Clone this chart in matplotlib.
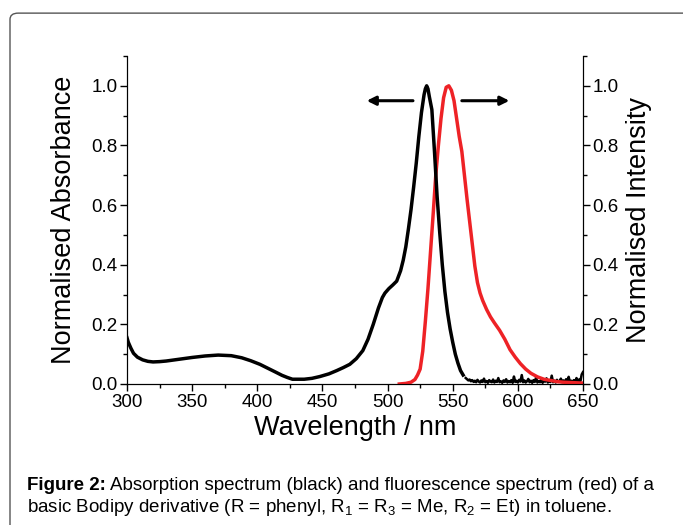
import matplotlib
matplotlib.use('Agg')
import matplotlib.pyplot as plt
from matplotlib.patches import FancyBboxPatch
from matplotlib.ticker import MultipleLocator
import numpy as np

plt.rcParams['font.family'] = ['Liberation Sans', 'DejaVu Sans']
plt.rcParams['mathtext.default'] = 'regular'

# absorption (black), main band
abs_nm = [300, 301, 303, 305, 308, 312, 316, 320, 325, 330, 340, 350, 360, 370, 380,
          388, 395, 402, 408, 414, 419, 423, 427, 431, 436, 442, 448, 455, 461, 466,
          471, 476, 481, 485, 489, 493, 496, 498, 501, 504, 507, 510, 512, 514, 516,
          518, 520, 522, 524, 526, 528, 529, 530, 531, 532, 534, 536, 538, 540, 542,
          544, 546, 548, 550, 552, 554, 556, 558]
abs_val = [0.155, 0.14, 0.12, 0.103, 0.09, 0.081, 0.076, 0.074, 0.075, 0.077, 0.083,
           0.089, 0.094, 0.097, 0.095, 0.088, 0.078, 0.066, 0.053, 0.04, 0.029, 0.022,
           0.016, 0.016, 0.016, 0.019, 0.025, 0.034, 0.045, 0.055, 0.066, 0.085, 0.112,
           0.15, 0.2, 0.255, 0.29, 0.305, 0.32, 0.332, 0.345, 0.38, 0.415, 0.46, 0.52,
           0.585, 0.66, 0.74, 0.83, 0.91, 0.97, 0.99, 1.0, 0.99, 0.965, 0.92, 0.78,
           0.63, 0.51, 0.40, 0.31, 0.24, 0.185, 0.14, 0.10, 0.07, 0.045, 0.03]
# noisy baseline of the absorption trace, 560-650 nm at 1 nm
abs_tail = [0.020, 0.016, 0.012, 0.015, 0.009, 0.013, 0.007, 0.011, 0.006, 0.014,
            0.008, 0.005, 0.012, 0.007, 0.018, 0.006, 0.010, 0.004, 0.013, 0.008,
            0.006, 0.015, 0.005, 0.011, 0.007, 0.020, 0.006, 0.009, 0.004, 0.012,
            0.007, 0.016, 0.005, 0.010, 0.006, 0.013, 0.004, 0.025, 0.007, 0.011,
            0.005, 0.014, 0.008, 0.030, 0.006, 0.012, 0.005, 0.009, 0.017, 0.006,
            0.011, 0.004, 0.013, 0.007, 0.022, 0.005, 0.010, 0.006, 0.015, 0.004,
            0.012, 0.008, 0.019, 0.005, 0.010, 0.007, 0.028, 0.006, 0.011, 0.005,
            0.014, 0.007, 0.009, 0.018, 0.006, 0.012, 0.005, 0.016, 0.008, 0.024,
            0.006, 0.011, 0.007, 0.013, 0.005, 0.020, 0.009, 0.015, 0.010, 0.032,
            0.040]
tail_nm = np.arange(560, 560 + len(abs_tail))

# fluorescence (red)
em_nm = [509, 514, 518, 521, 523, 525, 527, 529, 531, 533, 535, 537, 539, 541, 543,
         545, 547, 549, 551, 553, 555, 557, 559, 561, 563, 565, 567, 569, 571, 573,
         576, 579, 582, 586, 590, 594, 598, 602, 606, 610, 615, 620, 625, 630, 635,
         640, 645, 650]
em_val = [0.0, 0.002, 0.006, 0.015, 0.03, 0.05, 0.11, 0.21, 0.32, 0.445, 0.57, 0.70,
          0.80, 0.89, 0.96, 0.995, 1.0, 0.985, 0.95, 0.89, 0.83, 0.78, 0.70, 0.62,
          0.545, 0.47, 0.395, 0.34, 0.305, 0.28, 0.25, 0.225, 0.205, 0.18, 0.15,
          0.115, 0.09, 0.068, 0.05, 0.036, 0.024, 0.016, 0.012, 0.008, 0.006, 0.005,
          0.004, 0.003]

xticks = [300, 350, 400, 450, 500, 550, 600, 650]
yticks = [0.0, 0.2, 0.4, 0.6, 0.8, 1.0]

fig = plt.figure(figsize=(6.83, 5.25), dpi=100)

# rounded frame around the figure panel
frame = FancyBboxPatch((10 / 683, -0.05), 1.1, 0.975 + 0.05,
                       boxstyle='round,pad=0,rounding_size=0.012',
                       transform=fig.transFigure, fill=False,
                       edgecolor='#555555', linewidth=1.0)
fig.patches.append(frame)

ax = fig.add_axes([127 / 683, 1 - 384 / 525, (583 - 127) / 683, (384 - 56) / 525])
ax.plot(tail_nm, abs_tail, color='black', lw=1.8, zorder=2)
ax.plot(em_nm, em_val, color='#ee2226', lw=2.5, zorder=3)
ax.plot(abs_nm, abs_val, color='black', lw=2.5, zorder=4)

ax.set_xlim(300, 650)
ax.set_ylim(0, 1.1)
ax.set_xticks(xticks)
ax.set_yticks(yticks)
ax.xaxis.set_minor_locator(MultipleLocator(25))
ax.yaxis.set_minor_locator(MultipleLocator(0.1))
ax.spines['top'].set_visible(False)
ax.tick_params(which='both', direction='out', labelsize=13.5, width=1, pad=2)
ax.tick_params(which='major', length=5)
ax.tick_params(which='minor', length=3)
ax.set_yticklabels([f'{v:.1f}' for v in yticks])
ax.set_xlabel('Wavelength / nm', fontsize=19.5, labelpad=3)
ax.set_ylabel('Normalised Absorbance', fontsize=19.5, labelpad=10)

ax2 = ax.twinx()
ax2.set_ylim(0, 1.1)
ax2.set_yticks(yticks)
ax2.set_yticklabels([f'{v:.1f}' for v in yticks])
ax2.yaxis.set_minor_locator(MultipleLocator(0.1))
ax2.spines['top'].set_visible(False)
ax2.tick_params(which='both', direction='out', labelsize=13.5, width=1, pad=2)
ax2.tick_params(which='major', length=5)
ax2.tick_params(which='minor', length=3)
ax2.set_ylabel('Normalised Intensity', fontsize=19.5, labelpad=5)

arrow = dict(arrowstyle='-|>', color='black', lw=2.2, mutation_scale=13,
             shrinkA=0, shrinkB=0)
ax.annotate('', xy=(484, 0.95), xytext=(519.5, 0.95), arrowprops=arrow)
ax.annotate('', xy=(593.5, 0.95), xytext=(557, 0.95), arrowprops=arrow)

# caption
fig.canvas.draw()
renderer = fig.canvas.get_renderer()
t = fig.text(27 / 683, 1 - 485 / 525, 'Figure 2:', fontsize=13.5, fontweight='bold',
             va='center', ha='left')
bb = t.get_window_extent(renderer=renderer)
fig.text(bb.x1 / fig.bbox.width + 4 / 683, 1 - 485 / 525,
         'Absorption spectrum (black) and fluorescence spectrum (red) of a',
         fontsize=13.5, va='center', ha='left')
fig.text(27 / 683, 1 - 508 / 525,
         'basic Bodipy derivative (R = phenyl, R$_1$ = R$_3$ = Me, R$_2$ = Et) in toluene.',
         fontsize=13.5, va='center', ha='left')

fig.savefig('out.png', dpi=100)
